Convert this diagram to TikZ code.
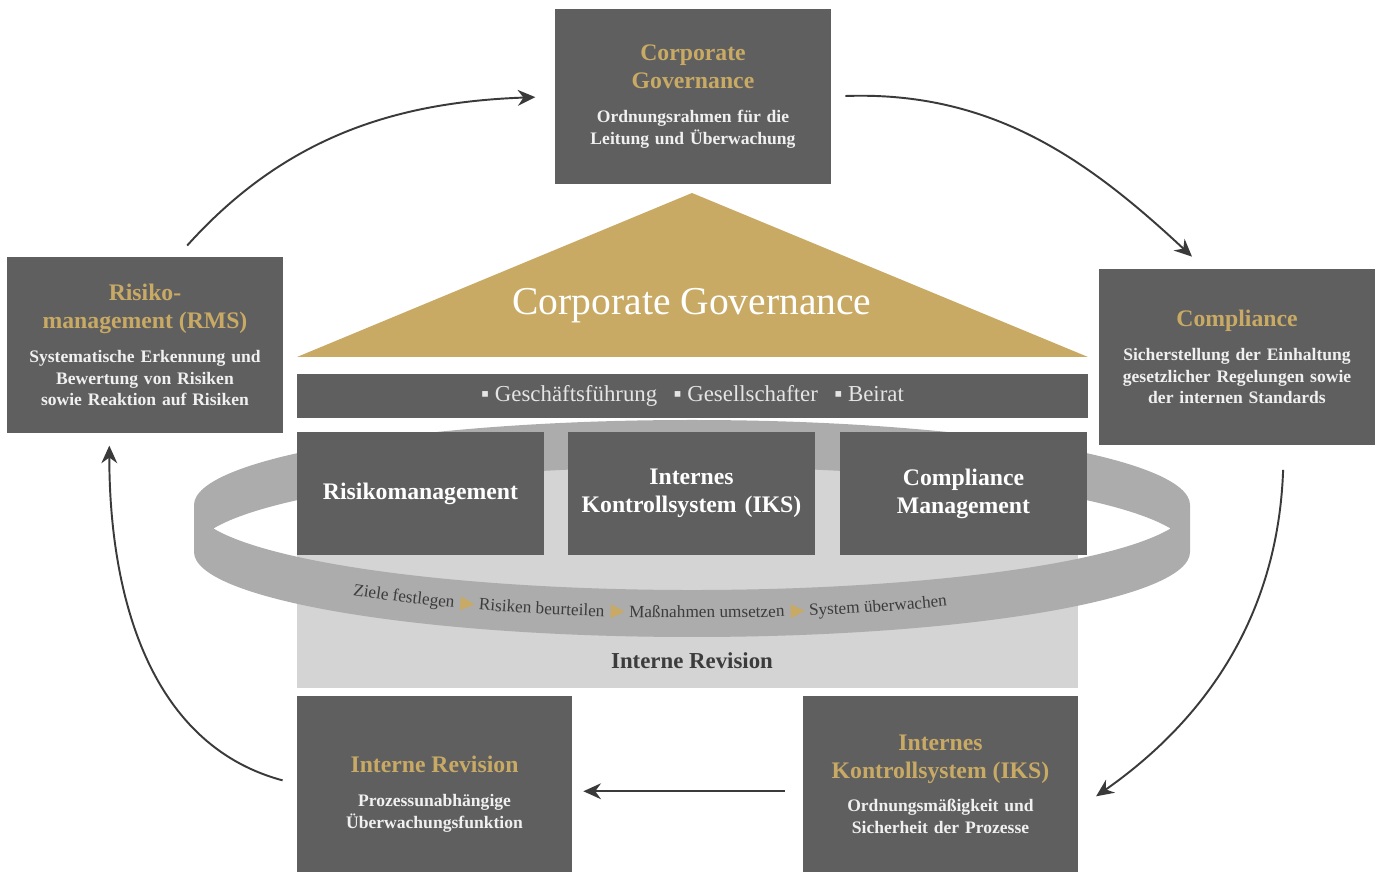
\documentclass[tikz,border=0pt]{standalone}
\usepackage{fontspec}
\setmainfont{Liberation Serif}
\newfontfamily\symfont{DejaVu Sans}
\usetikzlibrary{arrows.meta}
\usetikzlibrary{decorations.text}

\definecolor{boxgrey}{RGB}{95,95,95}
\definecolor{gold}{RGB}{201,170,101}
\definecolor{ringgrey}{RGB}{172,172,172}
\definecolor{revgrey}{RGB}{212,212,212}
\definecolor{arrowgrey}{RGB}{58,58,58}
\definecolor{labelgrey}{RGB}{60,60,60}

\newcommand{\titlefont}{\fontsize{13.5}{16}\selectfont\bfseries}
\newcommand{\subfont}{\fontsize{10}{12.2}\selectfont\bfseries}
\newcommand{\ringfont}{\fontsize{9.8}{11}\selectfont\color{labelgrey}}
\newcommand{\ringmark}{\symfont\fontsize{10.5}{11}\selectfont\color{gold}\hskip3.5pt}
\newcommand{\boxtext}[2]{{\titlefont\color{gold}#1\par}\vspace{7pt}{\subfont\color{white!94!black}#2\par}}

\tikzset{
  bigbox/.style={fill=boxgrey, minimum width=5.52cm, minimum height=3.52cm,
    text width=5.3cm, align=center, inner sep=0pt},
  midbox/.style={fill=boxgrey, text=white, minimum width=4.94cm, minimum height=2.46cm,
    text width=4.7cm, align=center, inner sep=0pt, font=\titlefont},
  flow/.style={draw=arrowgrey, line width=1.1pt, -{Stealth[length=10pt,width=9pt]}}
}

\begin{document}
\begin{tikzpicture}[x=0.02cm, y=0.02cm]
\useasboundingbox (0,0) rectangle (1378,872);

% interne revision im hintergrund
\fill [revgrey] (297,184) rectangle (1078,425);
\node [labelgrey, font=\fontsize{13}{15}\selectfont\bfseries] (irlabel) at (692,211) {Interne Revision};

% ring
\fill [ringgrey, even odd rule]
  (194,367) arc[start angle=180, end angle=0, x radius=498, y radius=85]
  -- (1190,320) arc[start angle=0, end angle=-180, x radius=498, y radius=85] -- cycle
  (1170.6,343.5) arc[start angle=-16.05, end angle=-163.95, x radius=498, y radius=85]
  arc[start angle=163.95, end angle=16.05, x radius=498, y radius=85] -- cycle;
\path [decorate, decoration={text along path, text align=center,
  text={|\ringfont|Ziele festlegen|\ringmark|▶|\ringfont| Risiken beurteilen|\ringmark|▶|\ringfont| Maßnahmen umsetzen|\ringmark|▶|\ringfont| System überwachen}}]
  (692,339) ++(-138:498 and 85) arc[start angle=-138, end angle=-55, x radius=498, y radius=85];

% drei saeulen
\node [midbox] (rm) at (420.5,378.5) {Risikomanagement};
\node [midbox] (ik) at (691.5,378.5) {Internes\\Kontrollsystem (IKS)};
\node [midbox] (cm) at (963.5,378.5) {Compliance\\Management};

% dach
\node [fill=boxgrey, minimum width=15.82cm, minimum height=0.88cm, inner sep=0pt,
  text=white!90!black, font=\fontsize{13}{15}\selectfont] (bar) at (692.5,476)
  {▪ Geschäftsführung\hspace{6pt} ▪ Gesellschafter\hspace{6pt} ▪ Beirat};
\fill [gold] (297,515) -- (692,679) -- (1088,515) -- cycle;
\node [white, font=\fontsize{22.5}{26}\selectfont] (cgroof) at (692,566) {Corporate Governance};

% kreislauf
\node [bigbox] (cg) at (693,775.5) {\boxtext{Corporate\\Governance}{Ordnungsrahmen für die\\Leitung und Überwachung}};
\node [bigbox] (comp) at (1237,515) {\boxtext{Compliance}{Sicherstellung der Einhaltung\\gesetzlicher Regelungen sowie\\der internen Standards}};
\node [bigbox] (iks) at (940.5,88) {\boxtext{Internes\\Kontrollsystem (IKS)}{Ordnungsmäßigkeit und\\Sicherheit der Prozesse}};
\node [bigbox] (ir) at (434.5,88) {\boxtext{\rule{0pt}{21pt}Interne Revision}{Prozessunabhängige\\Überwachungsfunktion}};
\node [bigbox] (rms) at (145,527) {\boxtext{Risiko-\\management (RMS)}{Systematische Erkennung und\\Bewertung von Risiken\\sowie Reaktion auf Risiken}};

\draw [flow, shorten <=8.5pt, shorten >=11pt] (rms.70) to[out=48, in=182] (cg.west);
\draw [flow, shorten <=8pt, shorten >=10pt] (cg.east) to[out=2, in=137] (comp.110);
\draw [flow, shorten <=14pt, shorten >=12pt] (comp.-62) to[out=-92, in=35] (iks.-10);
\draw [flow, shorten <=10pt, shorten >=6pt] (iks.183) -- (ir.-3);
\draw [flow, shorten <=8pt, shorten >=7pt] (ir.west) to[out=165, in=-90] (rms.-112);

\end{tikzpicture}
\end{document}
